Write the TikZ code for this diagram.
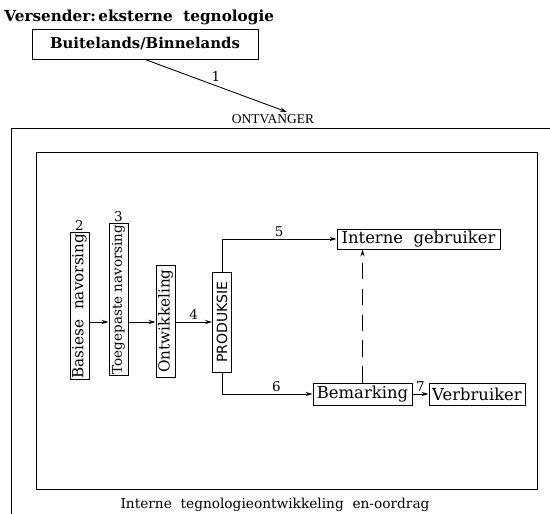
\documentclass[tikz,border=0pt]{standalone}
\usepackage{fontspec}
\setmainfont{DejaVu Serif}
\setsansfont{DejaVu Sans}
\newfontfamily\timesfont{Liberation Serif}
\usetikzlibrary{positioning, arrows.meta}
\def\unitpx{0.03cm}

\begin{document}
\begin{tikzpicture}[x=\unitpx, y=-\unitpx, line width=0.75pt, >={Stealth[length=6pt, width=3.5pt]}]
	\tikzstyle{box}=[draw=black, inner sep=1pt, font=\fontsize{14}{16}\selectfont]
	\tikzstyle{upbox}=[box, rotate=90, minimum height=0.57cm]
	\tikzstyle{num}=[inner sep=1pt, font=\fontsize{11.5}{13}\selectfont]
	\tikzstyle{caption}=[inner sep=0pt, font=\fontsize{11.7}{14}\selectfont]

	\useasboundingbox (0,0) rectangle (550,514);

	% Sender and the arrow to the receiver
	\node[caption, anchor=west, font=\bfseries\fontsize{13}{15}\selectfont] (versender) at (4,17) {Versender:\,eksterne\ \ tegnologie};
	\node[box, minimum width=6.78cm, minimum height=0.9cm, font=\bfseries\fontsize{12.7}{15}\selectfont] (buiten) at (145,44) {Buitelands/Binnelands};
	\coordinate (tip) at (287,112);
	\draw[->] (buiten.south) -- node[num, pos=0.5, above=2pt] {1} (tip);
	\node[caption, font=\timesfont\fontsize{11.5}{13}\selectfont] (ontvanger) at (273,119) {ONTVANGER};

	% Receiver frame and inner frame
	\draw (550,128) -- (11,128) -- (11,514);
	\draw (36,152) rectangle (537,489);
	\node[caption] (intern) at (275,505) {Interne\ \ tegnologieontwikkeling\ \ en-oordrag};

	% Draw the upright boxes, \len is the length along the text
	\foreach \name/\x/\y/\len/\fs/\txt in {basies/79.5/306/132/13/{Basiese\ \ navorsing},
			toegepas/118.5/299.5/147/11.5/{Toegepaste navorsing},
			ontwik/165.5/321/112/13/{Ontwikkeling}}
		\node[upbox, minimum width=\len*\unitpx, font=\fontsize{\fs}{15}\selectfont] (\name) at (\x,\y) {\txt};
	\node[upbox, minimum width=3cm, font=\sffamily\fontsize{12}{14}\selectfont] (produksie) at (222,322) {PRODUKSIE};
	\node[num, above=0pt of basies.east] (twee) {2};
	\node[num, above=0pt of toegepas.east] (drie) {3};

	% Users
	\node[box, minimum width=4.89cm, minimum height=0.6cm] (intgebr) at (418.5,239) {Interne\ \ gebruiker};
	\node[box, minimum width=2.97cm, minimum height=0.66cm] (bemark) at (362.5,394) {Bemarking};
	\node[box, minimum width=2.88cm, minimum height=0.66cm] (verbr) at (477,394) {Verbruiker};

	% Connect the research chain to the production
	\draw[->] (basies.south |- produksie.north) -- (toegepas.north |- produksie.north);
	\draw[->] (toegepas.south |- produksie.north) -- (ontwik.north |- produksie.north);
	\draw[->] (ontwik.south |- produksie.north) -- node[num, above=1pt] {4} (produksie.north);

	% Connect the production with the users
	\draw[->] (produksie.east) |- node[num, pos=0.75, above=1pt] {5} (intgebr.west);
	\draw[->] (produksie.west) |- node[num, pos=0.8, above=1pt] {6} (bemark.west);
	\draw[->] (bemark.east) -- node[num, above=1pt] {7} (verbr.west);
	\draw[->, dash pattern=on 14pt off 8pt] (bemark.north) -- (bemark.north |- intgebr.south);
\end{tikzpicture}
\end{document}
